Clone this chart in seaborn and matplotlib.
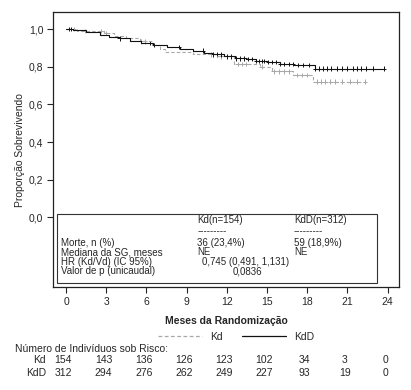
import numpy as np
import pandas as pd
import seaborn as sns
import matplotlib
matplotlib.use("Agg")
import matplotlib.pyplot as plt
import matplotlib.transforms as mtrans
from matplotlib.lines import Line2D

sns.set_style("ticks")
plt.rcParams['font.family'] = ['Liberation Sans Narrow', 'Liberation Sans', 'DejaVu Sans']
plt.rcParams['font.size'] = 7.5

# Kaplan-Meier step data
kdd_times = [0, 0.5, 1.5, 2.5, 3.2, 4.0, 4.8, 5.6, 6.5, 7.5, 8.5, 9.5, 10.3, 11.0,
             11.8, 12.6, 13.4, 14.2, 15.0, 16.0, 17.0, 18.6, 23.7]
kdd_surv = [1.0, 0.995, 0.985, 0.97, 0.96, 0.95, 0.935, 0.925, 0.915, 0.905, 0.895,
            0.885, 0.875, 0.865, 0.855, 0.845, 0.84, 0.83, 0.825, 0.815, 0.81, 0.79, 0.79]
kd_times = [0, 0.8, 2.8, 3.6, 4.5, 5.5, 6.4, 7.0, 7.4, 9.5, 11.2, 12.5, 14.5, 15.4,
            16.9, 18.4, 22.3]
kd_surv = [1.0, 0.99, 0.98, 0.965, 0.95, 0.935, 0.915, 0.895, 0.88, 0.865, 0.855,
           0.815, 0.80, 0.775, 0.755, 0.72, 0.72]

kdd_censor = [0.2, 0.4, 4.0, 6.3, 6.6, 8.4, 10.2, 11.0, 11.3, 11.6, 12.0, 12.3, 12.7,
              13.0, 13.3, 13.6, 13.9, 14.2, 14.4, 14.6, 14.8, 15.1, 15.4, 15.7, 16.0,
              16.3, 16.6, 16.9, 17.3, 17.7, 18.1, 18.6, 18.9, 19.2, 19.5, 19.8, 20.2,
              20.6, 21.0, 21.4, 21.7, 22.0, 22.4, 22.9, 23.7]
kd_censor = [0.6, 1.4, 2.6, 3.0, 5.6, 5.9, 10.8, 11.6, 12.8, 13.1, 13.4, 14.6, 15.5,
             15.9, 16.3, 16.6, 17.2, 17.6, 18.0, 18.7, 19.0, 19.3, 19.7, 20.1, 20.6,
             21.2, 21.7, 22.3]

risk_months = [0, 3, 6, 9, 12, 15, 18, 21, 24]
risk_kd = [154, 143, 136, 126, 123, 102, 34, 3, 0]
risk_kdd = [312, 294, 276, 262, 249, 227, 93, 19, 0]


def surv_at(times, surv, t):
    idx = np.searchsorted(times, t, side="right") - 1
    return np.asarray(surv)[idx]


curves = pd.concat([
    pd.DataFrame({"t": kd_times, "s": kd_surv, "grupo": "Kd"}),
    pd.DataFrame({"t": kdd_times, "s": kdd_surv, "grupo": "KdD"}),
])
cens = pd.concat([
    pd.DataFrame({"t": kd_censor, "s": surv_at(kd_times, kd_surv, kd_censor), "grupo": "Kd"}),
    pd.DataFrame({"t": kdd_censor, "s": surv_at(kdd_times, kdd_surv, kdd_censor), "grupo": "KdD"}),
])
palette = {"Kd": "#a8a8a8", "KdD": "#111111"}

fig = plt.figure(figsize=(4.11, 3.9), dpi=100)
ax = fig.add_axes([0.129, 0.264, 0.842, 0.705])

for g, d in curves.groupby("grupo"):
    ax.step(d["t"], d["s"], where="post", color=palette[g], lw=0.8,
            ls=(0, (3, 2)) if g == "Kd" else "-")
sns.scatterplot(data=cens, x="t", y="s", hue="grupo", palette=palette, marker="+",
                s=11, linewidth=0.7, legend=False, ax=ax)

ax.set_xlim(-0.97, 24.85)
ax.set_ylim(-0.37, 1.09)
ax.set_xticks(risk_months)
ax.set_yticks([0, 0.2, 0.4, 0.6, 0.8, 1.0])
ax.set_yticklabels([f"{v:.1f}".replace(".", ",") for v in [0, 0.2, 0.4, 0.6, 0.8, 1.0]])
ax.tick_params(length=4, width=0.8, labelsize=7.5, pad=3)
for sp in ax.spines.values():
    sp.set_linewidth(0.9)
    sp.set_color("#222222")
ax.set_xlabel("Meses da Randomização", fontsize=7.5, fontweight="bold", labelpad=7)
ax.set_ylabel("Proporção Sobrevivendo", fontsize=7.5, labelpad=3)

# statistics box
box = plt.Rectangle((-0.67, -0.346), 23.87, 0.366, fill=False, lw=0.8, ec="#333333")
ax.add_patch(box)
fs = 7
ax.text(9.8, -0.016, "Kd(n=154)", fontsize=fs, va="center")
ax.text(17.0, -0.016, "KdD(n=312)", fontsize=fs, va="center")
ax.text(9.8, -0.075, "---------", fontsize=fs, va="center")
ax.text(17.0, -0.075, "---------", fontsize=fs, va="center")
rows = ["Morte, n (%)", "Mediana da SG, meses", "HR (Kd/Vd) (IC 95%)", "Valor de p (unicaudal)"]
ys = [-0.138, -0.186, -0.237, -0.285]
for r, y in zip(rows, ys):
    ax.text(-0.37, y, r, fontsize=fs, va="center")
ax.text(9.8, ys[0], "36 (23,4%)", fontsize=fs, va="center")
ax.text(17.0, ys[0], "59 (18,9%)", fontsize=fs, va="center")
ax.text(9.8, ys[1], "NE", fontsize=fs, va="center")
ax.text(17.0, ys[1], "NE", fontsize=fs, va="center")
ax.text(13.4, ys[2], "0,745 (0,491, 1,131)", fontsize=fs, va="center", ha="center")
ax.text(13.5, ys[3], "0,0836", fontsize=fs, va="center", ha="center")

# legend
handles = [Line2D([], [], color=palette["Kd"], lw=0.9, ls=(0, (3, 2))),
           Line2D([], [], color="#111111", lw=0.9)]
fig.legend(handles, ["Kd", "KdD"], loc="center", bbox_to_anchor=(0.575, 0.136), ncol=2,
           frameon=False, fontsize=7.5, handlelength=4.2, columnspacing=1.8, handletextpad=0.8)

# number at risk
tr = mtrans.blended_transform_factory(ax.transData, fig.transFigure)
fig.text(0.036, 0.105, "Número de Indivíduos sob Risco:", fontsize=7.5, va="center")
fig.text(0.112, 0.077, "Kd", fontsize=7.5, va="center", ha="right")
fig.text(0.112, 0.044, "KdD", fontsize=7.5, va="center", ha="right")
for m, a, b in zip(risk_months, risk_kd, risk_kdd):
    ax.text(m - 0.2, 0.077, str(a), transform=tr, fontsize=7.5, va="center", ha="center")
    ax.text(m - 0.2, 0.044, str(b), transform=tr, fontsize=7.5, va="center", ha="center")

fig.savefig("out.png", dpi=100)
